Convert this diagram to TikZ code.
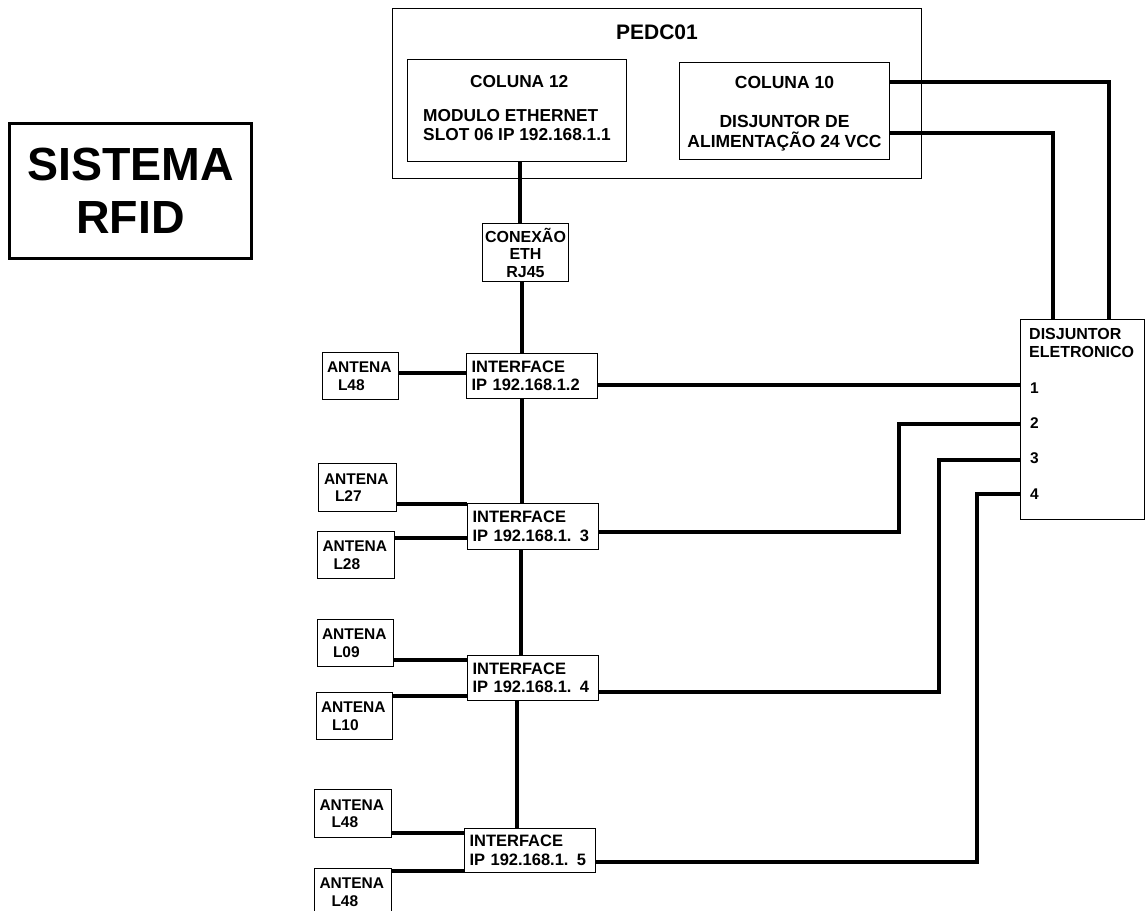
\documentclass[tikz,border=0pt]{standalone}
\usepackage{fontspec}
\setmainfont{Liberation Sans}
\newcommand\myfs[2]{\fontsize{#1}{#2}\selectfont\bfseries}
\begin{document}
\begin{tikzpicture}[x=1pt,y=-1pt,
  box/.style={draw=black, line width=1pt, inner sep=0pt, anchor=north west},
  wire/.style={line width=4pt},
  ifc/.style={box, minimum width=131pt, minimum height=45pt, text width=121pt, align=left, font=\myfs{16.5}{18.5}},
  ant/.style={box, minimum width=76pt, minimum height=47pt, text width=67pt, align=left, font=\myfs{15.5}{17.5}},
  num/.style={anchor=west, inner sep=0pt, font=\myfs{15.5}{18}},
]
\useasboundingbox (0,0) rectangle (1145,910);

% title
\node[box, line width=3pt, minimum width=242pt, minimum height=135pt, align=center, font=\myfs{46.5}{53}] (sis) at (8,122) {SISTEMA\\RFID};

% PEDC01 panel
\node[box, minimum width=529pt, minimum height=170pt] (pedc) at (392,8) {};
\node[font=\myfs{21}{24}, inner sep=0pt] (pedct) at (657,32) {PEDC01};
\node[box, minimum width=219pt, minimum height=102pt, align=left, font=\myfs{17.3}{19}] (c12) at (407,59) {\hspace*{47pt}COLUNA 12\\[15pt]MODULO ETHERNET\\SLOT 06 IP 192.168.1.1\rule[-6pt]{0pt}{6pt}};
\node[box, minimum width=210pt, minimum height=97pt, align=center, font=\myfs{17.5}{20}] (c10) at (679,62) {\rule{0pt}{17pt}COLUNA 10\\[19pt]DISJUNTOR DE\\ALIMENTAÇÃO 24 VCC};

% connection
\node[box, minimum width=86pt, minimum height=58pt, align=center, font=\myfs{16}{17.5}] (con) at (482,223) {CONEXÃO\\ETH\\RJ45};

% interfaces
\node[ifc] (i1) at (466,353) {INTERFACE\\IP 192.168.1.2};
\node[ifc, minimum height=46pt] (i2) at (467,503) {INTERFACE\\IP 192.168.1. 3};
\node[ifc] (i3) at (467,655) {INTERFACE\\IP 192.168.1. 4};
\node[ifc, minimum height=44pt] (i4) at (464,828) {INTERFACE\\IP 192.168.1. 5};

% antennas
\node[ant] (a1) at (322,352) {ANTENA\\\hspace*{11pt}L48};
\node[ant, minimum width=78pt, minimum height=48pt] (a2) at (318,463) {ANTENA\\\hspace*{11pt}L27};
\node[ant, minimum width=77pt] (a3) at (317,531) {ANTENA\\\hspace*{11pt}L28};
\node[ant] (a4) at (317,619) {ANTENA\\\hspace*{11pt}L09};
\node[ant] (a5) at (316,692) {ANTENA\\\hspace*{11pt}L10};
\node[ant, minimum width=77pt, minimum height=48pt] (a6) at (314,789) {ANTENA\\\hspace*{12pt}L48};
\node[ant, minimum width=77pt] (a7) at (314,868) {ANTENA\\\hspace*{12pt}L48};

% electronic breaker
\node[box, minimum width=124pt, minimum height=200pt] (disj) at (1020,319) {};
\node[anchor=north west, inner sep=0pt, align=left, font=\myfs{16}{18}] (disjt) at (1029,328) {DISJUNTOR\\ELETRONICO};
\node[num] (n1) at (1030,388) {1};
\node[num] (n2) at (1030,423) {2};
\node[num] (n3) at (1030,458) {3};
\node[num] (n4) at (1030,494) {4};
\coordinate (d1) at (disj.west |- 0,385);
\coordinate (d2) at (disj.west |- 0,424);
\coordinate (d3) at (disj.west |- 0,460);
\coordinate (d4) at (disj.west |- 0,494);

% ethernet trunk
\draw[wire] (c12.south -| 520,0) -- (con.north -| 520,0);
\draw[wire] (con.south -| 522,0) -- (i1.north -| 522,0);
\draw[wire] (i1.south -| 522,0) -- (i2.north -| 522,0);
\draw[wire] (i2.south -| 521,0) -- (i3.north -| 521,0);
\draw[wire] (i3.south -| 517,0) -- (i4.north -| 517,0);

% antenna links
\draw[wire] (a1.east |- 0,373) -- (i1.west |- 0,373);
\draw[wire] (a2.east |- 0,504) -- (i2.west |- 0,504);
\draw[wire] (a3.east |- 0,538) -- (i2.west |- 0,538);
\draw[wire] (a4.east |- 0,660) -- (i3.west |- 0,660);
\draw[wire] (a5.east |- 0,696) -- (i3.west |- 0,696);
\draw[wire] (a6.east |- 0,833) -- (i4.west |- 0,833);
\draw[wire] (a7.east |- 0,871) -- (i4.west |- 0,871);

% power to interfaces
\draw[wire] (i1.east |- d1) -- (d1);
\draw[wire] (i2.east |- 0,532) -| (d2 -| 899,0) -- (d2);
\draw[wire] (i3.east |- 0,692) -| (d3 -| 939,0) -- (d3);
\draw[wire] (i4.east |- 0,862) -| (d4 -| 977,0) -- (d4);

% supply from COLUNA 10
\draw[wire] (c10.east |- 0,82) -| (disj.north -| 1109,0);
\draw[wire] (c10.east |- 0,133) -| (disj.north -| 1053,0);
\end{tikzpicture}
\end{document}
